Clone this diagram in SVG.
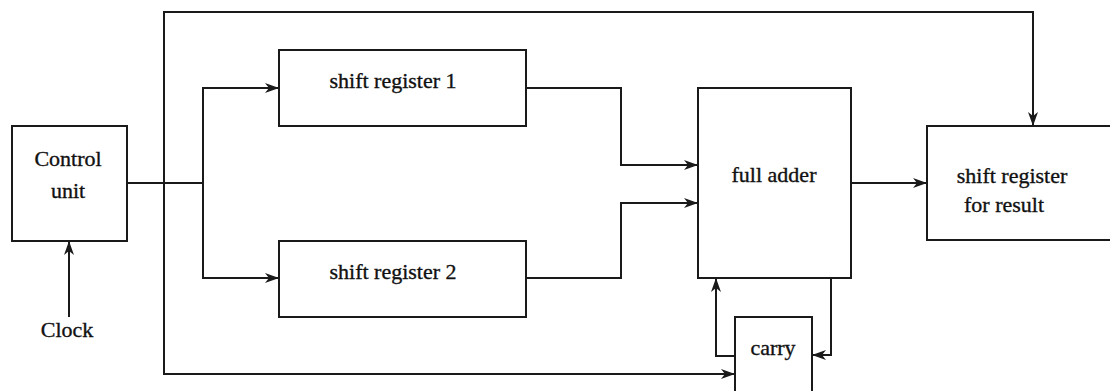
<svg xmlns="http://www.w3.org/2000/svg" width="1110" height="391" viewBox="0 0 1110 391">
<style>
.box{fill:none;stroke:#1a1a1a;stroke-width:2}
.ln{fill:none;stroke:#1a1a1a;stroke-width:2}
.ar{marker-end:url(#arr)}
text{font-family:"Liberation Serif","Times New Roman",serif;font-size:22px;fill:#111;stroke:#111;stroke-width:0.35;text-anchor:middle}
</style>
<defs>
<marker id="arr" viewBox="0 0 14 10" refX="14" refY="5" markerWidth="14" markerHeight="10" markerUnits="userSpaceOnUse" orient="auto">
<path d="M0,0 L14,5 L0,10 L4,5 z" fill="#1a1a1a"/>
</marker>
</defs>
<rect width="1110" height="391" fill="#fff"/>
<g id="connectors">
<path class="ln" d="M127,183 H203"/>
<path class="ln ar" d="M203,183 V88 H279"/>
<path class="ln ar" d="M203,183 V278 H279"/>
<path class="ln ar" d="M164,183 V12 H1033 V126"/>
<path class="ln ar" d="M164,183 V374 H735"/>
<path class="ln ar" d="M526,88 H621 V165 H698"/>
<path class="ln ar" d="M526,278 H621 V203 H698"/>
<path class="ln ar" d="M851,183 H927"/>
<path class="ln ar" d="M735,356 H716 V278"/>
<path class="ln ar" d="M831,278 V355 H812"/>
<path class="ln ar" d="M69,317 V241"/>
</g>
<g id="control-unit">
<rect class="box" x="12" y="126" width="115" height="115"/>
<text x="68" y="166">Control</text>
<text x="68" y="198">unit</text>
</g>
<g id="clock">
<text x="67" y="337">Clock</text>
</g>
<g id="shift-register-1">
<rect class="box" x="279" y="50" width="247" height="76"/>
<text x="393" y="88">shift register 1</text>
</g>
<g id="shift-register-2">
<rect class="box" x="279" y="241" width="247" height="76"/>
<text x="393" y="279">shift register 2</text>
</g>
<g id="full-adder">
<rect class="box" x="698" y="88" width="153" height="190"/>
<text x="774" y="182">full adder</text>
</g>
<g id="result-register">
<rect class="box" x="927" y="126" width="186" height="114"/>
<text x="1012" y="183">shift register</text>
<text x="1004" y="212">for result</text>
</g>
<g id="carry">
<rect class="box" x="735" y="317" width="77" height="80"/>
<text x="773" y="355">carry</text>
</g>
</svg>
